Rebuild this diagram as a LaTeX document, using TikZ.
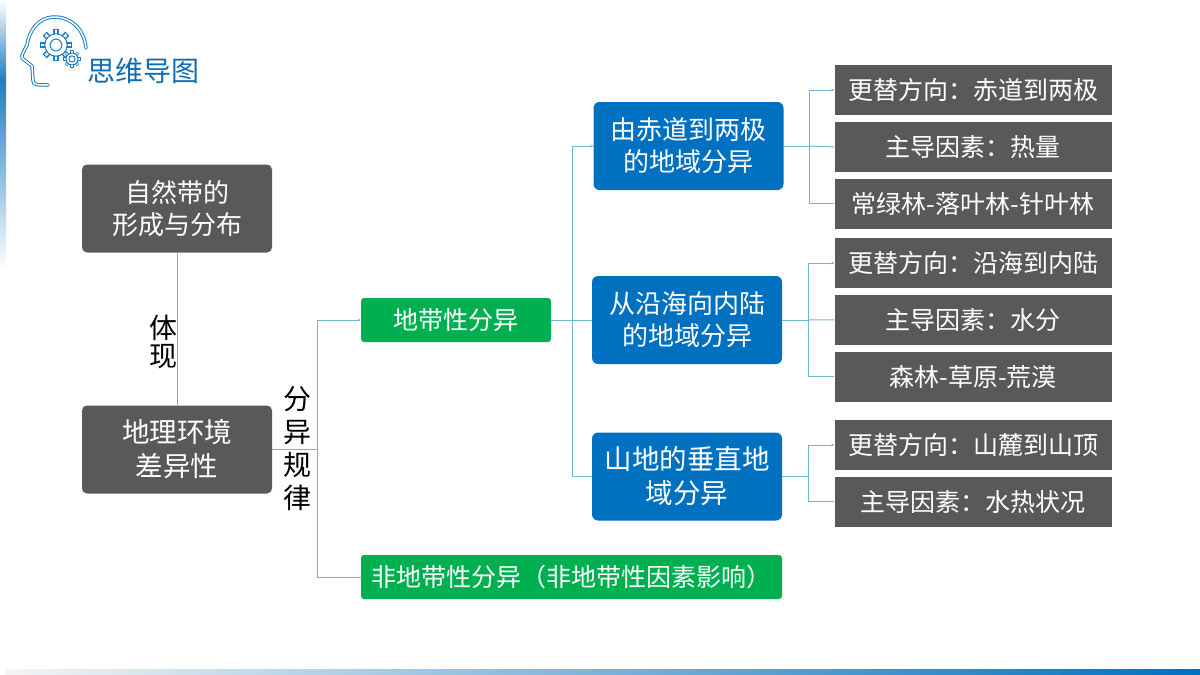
\documentclass[tikz,border=0pt]{standalone}
\usepackage{fontspec}
\usepackage{xcolor}
\setmainfont{Noto Sans CJK SC}
\usetikzlibrary{arrows.meta, positioning}
\definecolor{darkgray}{HTML}{595959}
\definecolor{regionblue}{HTML}{0070C0}
\definecolor{zonegreen}{HTML}{00B050}
\definecolor{linkblue}{HTML}{72B6CE}
\definecolor{logoblue}{HTML}{1F7DC0}
\definecolor{titleblue}{HTML}{0F6CB5}
\newcommand{\fcolon}{^^^^ff1a}
\newcommand{\fopen}{^^^^ff08}
\newcommand{\fclose}{^^^^ff09}
\newcommand{\gearicon}[2]{%
    \foreach \ang in {0,45,...,315} {
        \draw[logoblue, line width=#2*0.42pt] (#1) ++(\ang:#2*0.72) -- ++(\ang:#2*0.42);
        \draw[white, line width=#2*0.2pt] (#1) ++(\ang:#2*0.72) -- ++(\ang:#2*0.34);
    }
    \draw[logoblue, fill=white, line width=1pt] (#1) circle (#2*0.8);
    \draw[logoblue, line width=1pt] (#1) circle (#2*0.42);
}

\begin{document}
\begin{tikzpicture}[
        x=1pt, y=-1pt,
        base/.style={rectangle, minimum height=88pt, minimum width=190pt, inner sep=0pt, align=center, text=white, font=\fontsize{26}{32}\selectfont},
        graybox/.style={base, fill=darkgray, rounded corners=5pt},
        bluebox/.style={base, fill=regionblue, rounded corners=6pt},
        bigtext/.style={font=\fontsize{27.5}{34}\selectfont},
        greenbox/.style={base, fill=zonegreen, rounded corners=3pt, minimum height=44pt, font=\fontsize{25}{30}\selectfont},
        factbox/.style={base, fill=darkgray, minimum height=50pt, minimum width=277pt, font=\fontsize{25}{30}\selectfont},
        vlabel/.style={inner sep=0pt, align=center, text=black, font=\fontsize{28}{33}\selectfont},
        link/.style={draw=linkblue, line width=1pt},
        arrow/.style={link, -{Stealth[length=3pt, width=3pt]}},
        node distance=6.5pt and 6.5pt
    ]
        \useasboundingbox (0,0) rectangle (1200,675);
        % edge bands
        \shade[top color=white, bottom color=logoblue] (0,0) rectangle (6,80);
        \shade[top color=logoblue, bottom color=white] (0,80) rectangle (6,270);
        \shade[left color=black!4, right color=regionblue] (5,669) rectangle (1200,675);
        % logo
        \draw[logoblue, line width=1pt, double=white, double distance=1.5pt, line cap=round, line join=round]
            (86,48) .. controls (84,28) and (70,17) .. (55,17)
            .. controls (38,17) and (29,31) .. (27,45)
            -- (22,55) -- (22,58) -- (32,66) -- (33,80)
            .. controls (33,85) and (36,85) .. (48,85);
        \gearicon{56,45}{14}
        \gearicon{72,59}{7.5}
        \node[inner sep=0pt, text=titleblue, font=\fontsize{28}{30}\selectfont] (title) at (143,71) {思维导图};
        % left column
        \node[graybox] (nature) at (177,208.5) {自然带的\\形成与分布};
        \node[graybox, bigtext] (geo) at (177,449.5) {地理环境\\差异性};
        % middle
        \node[greenbox] (zonal) at (456,320) {地带性分异};
        \node[greenbox, minimum width=421pt] (nonzonal) at (571.5,577) {非地带性分异\fopen{}非地带性因素影响\fclose{}};
        % regions
        \node[bluebox] (polar) at (688.5,146) {由赤道到两极\\的地域分异};
        \node[bluebox] (inland) at (687,320) {从沿海向内陆\\的地域分异};
        \node[bluebox, bigtext] (mountain) at (687,476.5) {山地的垂直地\\域分异};
        % facts
        \node[factbox] (polarA) at (973,90) {更替方向\fcolon{}赤道到两极};
        \node[factbox, below=of polarA] (polarB) {主导因素\fcolon{}热量};
        \node[factbox, below=of polarB] (polarC) {常绿林-落叶林-针叶林};
        \node[factbox] (inlandA) at (973,263) {更替方向\fcolon{}沿海到内陆};
        \node[factbox, below=of inlandA] (inlandB) {主导因素\fcolon{}水分};
        \node[factbox, below=of inlandB] (inlandC) {森林-草原-荒漠};
        \node[factbox] (mountainA) at (973,445) {更替方向\fcolon{}山麓到山顶};
        \node[factbox, below=of mountainA] (mountainB) {主导因素\fcolon{}水热状况};
        % connectors
        \coordinate (geoTrunk) at (317,449.5);
        \coordinate (zonalTrunk) at (572,320);
        \coordinate (polarTrunk) at (809,146);
        \coordinate (inlandTrunk) at (808,320);
        \coordinate (mountainTrunk) at (808,476.5);
        \draw[link] (nature.south) -- (geo.north);
        \draw[link] (geo.east) -- (geoTrunk);
        \draw[arrow] (geoTrunk) |- (zonal.west);
        \draw[link] (geoTrunk) |- (nonzonal.west);
        \draw[link] (zonal.east) -- (zonalTrunk);
        \draw[arrow] (zonalTrunk) |- (polar.west);
        \draw[link] (zonalTrunk) -- (inland.west);
        \draw[link] (zonalTrunk) |- (mountain.west);
        \draw[link] (polar.east) -- (polarTrunk);
        \draw[arrow] (polarTrunk) |- (polarA.west);
        \draw[link] (polarTrunk) -- (polarB.west);
        \draw[link] (polarTrunk) |- (polarC.west);
        \draw[link] (inland.east) -- (inlandTrunk);
        \draw[arrow] (inlandTrunk) |- (inlandA.west);
        \draw[link] (inlandTrunk) -- (inlandB.west);
        \draw[link] (inlandTrunk) |- (inlandC.west);
        \draw[link] (mountain.east) -- (mountainTrunk);
        \draw[arrow] (mountainTrunk) |- (mountainA.west);
        \draw[link] (mountainTrunk) |- (mountainB.west);
        % labels on the links
        \node[vlabel, font=\fontsize{28}{28}\selectfont] (showLabel) at (163,342) {体\\现};
        \node[vlabel] (ruleLabel) at (297,449) {分\\异\\规\\律};
    \end{tikzpicture}
\end{document}
